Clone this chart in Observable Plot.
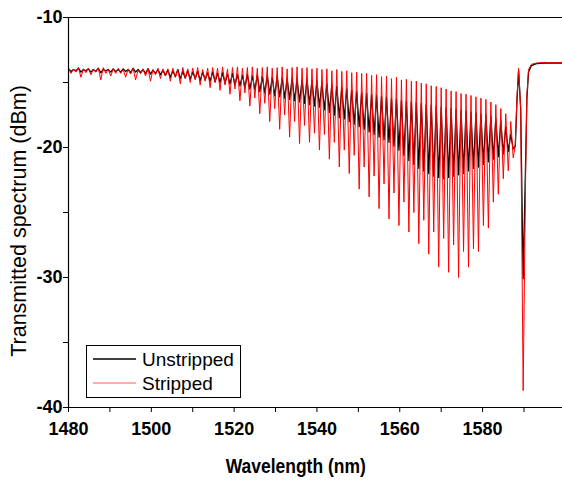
<!DOCTYPE html>
<html>
<head>
<meta charset="utf-8">
<script src="https://cdn.jsdelivr.net/npm/d3@7"></script>
<script src="https://cdn.jsdelivr.net/npm/@observablehq/plot@0.6"></script>
<style>
  html, body { margin: 0; padding: 0; background: #fff; }
  #wrap { position: relative; width: 562px; height: 481px; overflow: hidden; }
  #legend { position: absolute; left: 86px; top: 345px; }
</style>
</head>
<body>
<div id="wrap"></div>
<script>
// Wavelength samples (nm): fringe peaks and dips, then the notch and flat tail
const wavelength = [
  1480.0,1480.6,1481.2,1481.8,1482.4,1483.0,1483.6,1484.2,1484.8,1485.4,1486.0,1486.6,1487.2,1487.8,1488.4,1489.0,1489.6,1490.2,1490.8,1491.4,
  1492.0,1492.6,1493.2,1493.8,1494.4,1495.0,1495.6,1496.2,1496.8,1497.4,1498.0,1498.6,1499.2,1499.8,1500.4,1501.0,1501.6,1502.2,1502.8,1503.4,
  1504.0,1504.6,1505.2,1505.8,1506.4,1507.0,1507.6,1508.2,1508.8,1509.4,1510.0,1510.6,1511.2,1511.8,1512.4,1513.0,1513.6,1514.2,1514.8,1515.4,
  1516.0,1516.6,1517.2,1517.8,1518.4,1519.0,1519.6,1520.2,1520.8,1521.4,1522.0,1522.6,1523.2,1523.8,1524.4,1525.0,1525.6,1526.2,1526.8,1527.4,
  1528.0,1528.6,1529.2,1529.8,1530.4,1531.0,1531.6,1532.2,1532.8,1533.4,1534.0,1534.6,1535.2,1535.8,1536.4,1537.0,1537.6,1538.2,1538.8,1539.4,
  1540.0,1540.6,1541.2,1541.8,1542.4,1543.0,1543.6,1544.2,1544.8,1545.4,1546.0,1546.6,1547.2,1547.8,1548.4,1549.0,1549.6,1550.2,1550.8,1551.4,
  1552.0,1552.6,1553.2,1553.8,1554.4,1555.0,1555.6,1556.2,1556.8,1557.4,1558.0,1558.6,1559.2,1559.8,1560.4,1561.0,1561.6,1562.2,1562.8,1563.4,
  1564.0,1564.6,1565.2,1565.8,1566.4,1567.0,1567.6,1568.2,1568.8,1569.4,1570.0,1570.6,1571.2,1571.8,1572.4,1573.0,1573.6,1574.2,1574.8,1575.4,
  1576.0,1576.6,1577.2,1577.8,1578.4,1579.0,1579.6,1580.2,1580.8,1581.4,1582.0,1582.6,1583.2,1583.8,1584.4,1585.0,1585.6,1586.2,1586.8,1587.4,
  1587.9,1588.3,1588.7,1589.2,1589.8,1590.4,1590.7,1591.1,1591.8,1593.0,1595.0,1597.0,1599.3
];

// Unstripped (black), dBm
const unstripped = [
  -13.95,-14.15,-14.0,-14.1,-13.9,-14.2,-14.0,-14.1,-13.95,-14.2,-14.0,-14.15,-13.9,-14.25,-14.0,-14.1,-14.0,-14.2,-13.95,-14.15,
  -14.0,-14.2,-13.95,-14.15,-14.0,-14.25,-13.9,-14.2,-14.0,-14.25,-14.0,-14.3,-13.95,-14.35,-14.05,-14.3,-14.0,-14.4,-14.05,-14.45,
  -14.05,-14.6,-14.1,-14.55,-14.0,-14.7,-14.15,-14.65,-14.1,-14.75,-14.2,-14.7,-14.15,-14.85,-14.2,-14.8,-14.25,-14.9,-14.2,-14.95,
  -14.3,-15.0,-14.25,-15.05,-14.35,-15.1,-14.3,-15.2,-14.4,-15.25,-14.45,-15.4,-14.4,-15.5,-14.5,-15.55,-14.45,-15.7,-14.55,-15.8,
  -14.5,-15.9,-14.6,-16.0,-14.55,-16.1,-14.65,-16.2,-14.7,-16.3,-14.65,-16.4,-14.75,-16.5,-14.8,-16.6,-14.75,-16.7,-14.85,-16.8,
  -14.9,-16.9,-15.0,-17.1,-15.1,-17.3,-15.2,-17.5,-15.3,-17.7,-15.4,-17.8,-15.5,-18.0,-15.6,-18.2,-15.7,-18.4,-15.8,-18.6,
  -15.85,-18.8,-15.95,-19.0,-16.0,-19.2,-16.1,-19.4,-16.15,-19.6,-16.25,-19.9,-16.3,-20.2,-16.4,-20.6,-16.45,-21.0,-16.5,-21.3,
  -16.55,-21.6,-16.6,-21.8,-16.7,-22.0,-16.75,-22.2,-16.8,-22.3,-16.9,-22.4,-16.95,-22.3,-17.0,-22.2,-17.1,-22.1,-17.15,-22.0,
  -17.2,-21.8,-17.3,-21.6,-17.35,-21.5,-17.45,-21.3,-17.5,-21.1,-17.6,-20.9,-17.8,-20.7,-18.0,-20.5,-18.4,-20.3,-19.0,-20.1,
  -19.9,-16.4,-14.1,-17.0,-30.1,-21.0,-16.2,-14.2,-13.7,-13.55,-13.5,-13.5,-13.5
];

// Stripped (red), dBm
const stripped = [
  -13.9,-14.3,-14.0,-14.2,-13.85,-14.6,-13.95,-14.25,-13.9,-14.4,-14.0,-14.2,-13.9,-14.8,-13.85,-14.3,-14.0,-14.5,-13.95,-14.3,
  -13.9,-14.3,-14.0,-14.6,-13.95,-14.35,-13.9,-14.8,-14.05,-14.3,-13.95,-14.5,-13.9,-14.9,-14.0,-14.4,-13.9,-14.7,-13.95,-14.5,
  -13.95,-14.9,-13.9,-14.6,-14.0,-15.1,-13.85,-14.7,-13.95,-15.0,-13.9,-14.8,-13.85,-15.2,-14.0,-14.9,-13.9,-15.4,-13.85,-15.0,
  -13.9,-15.6,-13.8,-15.2,-13.95,-15.9,-13.85,-15.5,-13.8,-16.4,-13.9,-15.8,-13.85,-16.8,-13.8,-16.2,-13.9,-17.4,-13.85,-16.6,
  -13.8,-18.0,-13.9,-17.0,-13.85,-18.6,-13.8,-17.5,-13.95,-19.2,-13.85,-18.0,-13.8,-19.7,-13.9,-18.3,-13.85,-19.6,-13.95,-18.9,
  -13.9,-20.2,-14.0,-19.0,-13.95,-20.9,-14.1,-19.6,-14.0,-21.5,-14.15,-20.2,-14.1,-22.0,-14.25,-20.6,-14.2,-23.2,-14.3,-21.5,
  -14.3,-23.8,-14.45,-22.2,-14.4,-24.7,-14.55,-22.8,-14.5,-25.5,-14.7,-23.5,-14.6,-26.0,-14.8,-24.2,-14.75,-26.5,-14.9,-25.0,
  -14.9,-27.4,-15.05,-25.6,-15.1,-28.2,-15.25,-26.5,-15.3,-29.2,-15.4,-27.0,-15.5,-29.6,-15.65,-27.5,-15.7,-30.0,-15.85,-28.0,
  -15.9,-29.2,-16.0,-27.8,-16.1,-28.0,-16.2,-26.0,-16.3,-26.2,-16.5,-24.2,-16.7,-23.6,-17.0,-22.4,-17.4,-21.8,-18.0,-20.8,
  -19.8,-16.2,-13.9,-17.0,-38.7,-22.0,-16.0,-14.0,-13.6,-13.5,-13.45,-13.5,-13.45
];

const seriesNames = ["Unstripped", "Stripped"];
const seriesColors = ["#000000", "#ff0000"];
const xTicks = [1480,1490,1500,1510,1520,1530,1540,1550,1560,1570,1580,1590];
const yTicks = [-40,-35,-30,-25,-20,-15,-10];
const xDomain = [1480, 1599.3];
const yDomain = [-40, -10];

const blackRows = wavelength.map((w, i) => ({w, v: unstripped[i]}));
const redRows = wavelength.map((w, i) => ({w, v: stripped[i]}));

const font = "'Liberation Sans', Arial, sans-serif";

const chart = Plot.plot({
  width: 562,
  height: 481,
  marginLeft: 68,
  marginRight: 0,
  marginTop: 17,
  marginBottom: 74,
  style: {fontFamily: font, background: "#fff", color: "#000"},
  x: {domain: xDomain},
  y: {domain: yDomain},
  marks: [
    Plot.line(blackRows, {x: "w", y: "v", stroke: seriesColors[0], strokeWidth: 1.3}),
    Plot.line(redRows, {x: "w", y: "v", stroke: seriesColors[1], strokeWidth: 1}),
    Plot.ruleX([xDomain[0]], {stroke: "#000", strokeWidth: 1.2}),
    Plot.ruleY([yDomain[0]], {stroke: "#000", strokeWidth: 1.2}),
    Plot.ruleY([yDomain[1]], {stroke: "#000", strokeWidth: 1.2}),
    Plot.axisX({ticks: xTicks, tickSize: 5, tickPadding: 10, label: null,
      tickFormat: d => d % 20 === 0 ? String(d) : "",
      fontSize: 18, fontWeight: "bold"}),
    Plot.axisY({ticks: yTicks, tickSize: 5, tickPadding: 1, label: null,
      tickFormat: d => d % 10 === 0 ? String(d) : "",
      fontSize: 18, fontWeight: "bold"})
  ]
});

document.getElementById("wrap").appendChild(chart);

const xs = chart.scale("x");
const svg = d3.select(chart);
svg.append("text")
  .attr("x", (xs.apply(1480) + xs.apply(1590)) / 2)
  .attr("y", 473)
  .attr("text-anchor", "middle")
  .attr("font-family", font)
  .attr("font-size", 19.5)
  .attr("font-weight", "bold")
  .attr("textLength", 140)
  .attr("lengthAdjust", "spacingAndGlyphs")
  .attr("fill", "#000")
  .text("Wavelength (nm)");
svg.append("text")
  .attr("transform", "translate(26,221) rotate(-90)")
  .attr("text-anchor", "middle")
  .attr("font-family", font)
  .attr("font-size", 21.5)
  .attr("fill", "#000")
  .text("Transmitted spectrum (dBm)");

// Legend
const leg = d3.select("#wrap").append("svg")
  .attr("id", "legend")
  .attr("width", 155).attr("height", 53);
leg.append("rect").attr("x", 0.5).attr("y", 0.5).attr("width", 154).attr("height", 52)
  .attr("fill", "#fff").attr("stroke", "#000");
const rowY = [14, 38];
const sampleColors = ["#000000", "#ff5a5a"];
const sampleWidths = [1.6, 1];
seriesNames.forEach((name, i) => {
  leg.append("line").attr("x1", 7).attr("x2", 50).attr("y1", rowY[i]).attr("y2", rowY[i])
    .attr("stroke", sampleColors[i]).attr("stroke-width", sampleWidths[i]);
  leg.append("text").attr("x", 56).attr("y", rowY[i] + 7)
    .attr("font-family", font).attr("font-size", 19).attr("fill", "#000")
    .text(name);
});
</script>
</body>
</html>
